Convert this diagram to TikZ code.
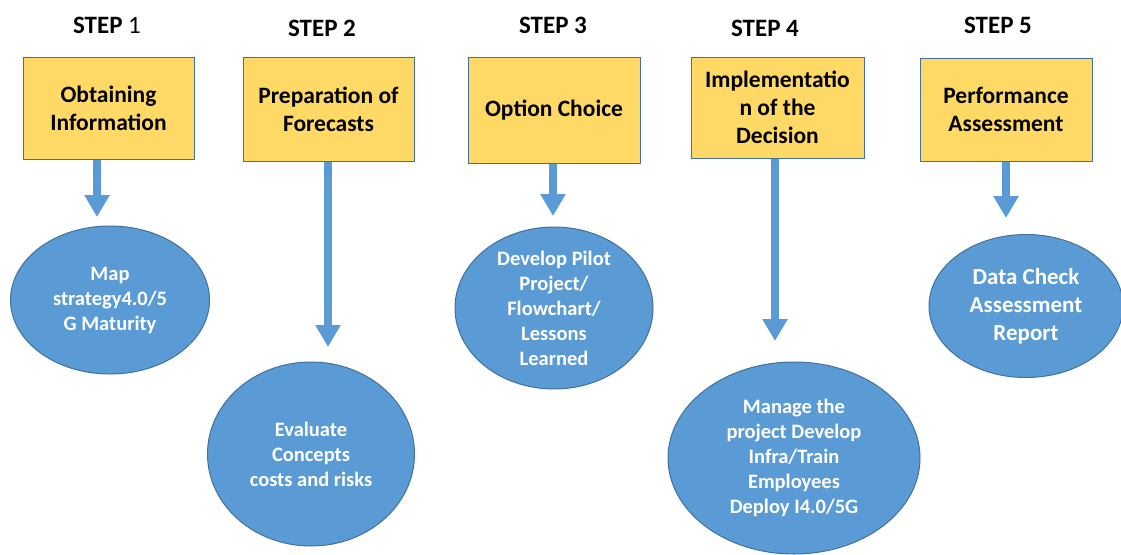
\documentclass[tikz,border=0pt]{standalone}
\usepackage{fontspec}
\setmainfont{Carlito}
\usepackage{xcolor}
\usetikzlibrary{shapes.geometric,arrows.meta}
\definecolor{boxfill}{HTML}{FFD966}
\definecolor{edge}{HTML}{41719C}
\definecolor{ellfill}{HTML}{5B9BD5}
\tikzset{
	steplabel/.style={font=\fontsize{25}{28}\selectfont\bfseries},
	stepbox/.style={draw=edge, line width=1pt, fill=boxfill, align=center, inner sep=0pt, font=\fontsize{23.5}{28}\selectfont\bfseries},
	task/.style={ellipse, draw=edge, line width=1pt, fill=ellfill, text=white, align=center, inner sep=0pt, font=\fontsize{20.5}{25}\selectfont\bfseries},
	down/.style={draw=ellfill, line width=8pt, -{Triangle[width=24pt,length=22pt]}},
}
\begin{document}
\begin{tikzpicture}[x=1pt,y=-1pt]
		\useasboundingbox [fill=white] (0,0) rectangle (1121,554);
		% step titles
		\node[steplabel] (S1) at (107,25) {STEP \mdseries 1};
		\node[steplabel] (S2) at (322,28) {STEP 2};
		\node[steplabel] (S3) at (553,25) {STEP 3};
		\node[steplabel] (S4) at (765,28) {STEP 4};
		\node[steplabel] (S5) at (998,25) {STEP 5};
		% boxes
		\node[stepbox, minimum width=171pt, minimum height=102pt] (B1) at (108.5,108) {Obtaining\\Information};
		\node[stepbox, minimum width=171pt, minimum height=104pt] (B2) at (328.5,109) {Preparation of\\Forecasts};
		\node[stepbox, minimum width=172pt, minimum height=106pt] (B3) at (554,110) {Option Choice};
		\node[stepbox, minimum width=173pt, minimum height=101pt] (B4) at (777.5,107.5) {Implementatio\\n of the\\Decision};
		\node[stepbox, minimum width=172pt, minimum height=103pt] (B5) at (1006,109.5) {Performance\\Assessment};
		% ellipses
		\node[task, minimum width=199pt, minimum height=148pt] (E1) at (110,300) {Map\\strategy4.0/5\\G Maturity};
		\node[task, minimum width=207pt, minimum height=184pt] (E2) at (311,454) {Evaluate\\Concepts\\costs and risks};
		\node[task, minimum width=198pt, minimum height=143pt] (E3) at (554,308) {Develop Pilot\\Project/\\Flowchart/\\Lessons\\Learned};
		\node[task, minimum width=252pt, minimum height=192pt] (E4) at (794,458) {Manage the\\project Develop\\Infra/Train\\Employees\\Deploy I4.0/5G};
		\node[task, minimum width=194pt, minimum height=143pt, font=\fontsize{23}{28}\selectfont\bfseries] (E5) at (1026,306) {Data Check\\Assessment\\Report};
		% arrow tips
		\coordinate (T1) at (97,217);
		\coordinate (T2) at (328,347);
		\coordinate (T3) at (553,216);
		\coordinate (T4) at (775,341);
		\coordinate (T5) at (1006,218);
		\draw[down] (B1.south -| T1) -- (T1);
		\draw[down] (B2.south -| T2) -- (T2);
		\draw[down] (B3.south -| T3) -- (T3);
		\draw[down] (B4.south -| T4) -- (T4);
		\draw[down] (B5.south -| T5) -- (T5);
	\end{tikzpicture}
\end{document}
